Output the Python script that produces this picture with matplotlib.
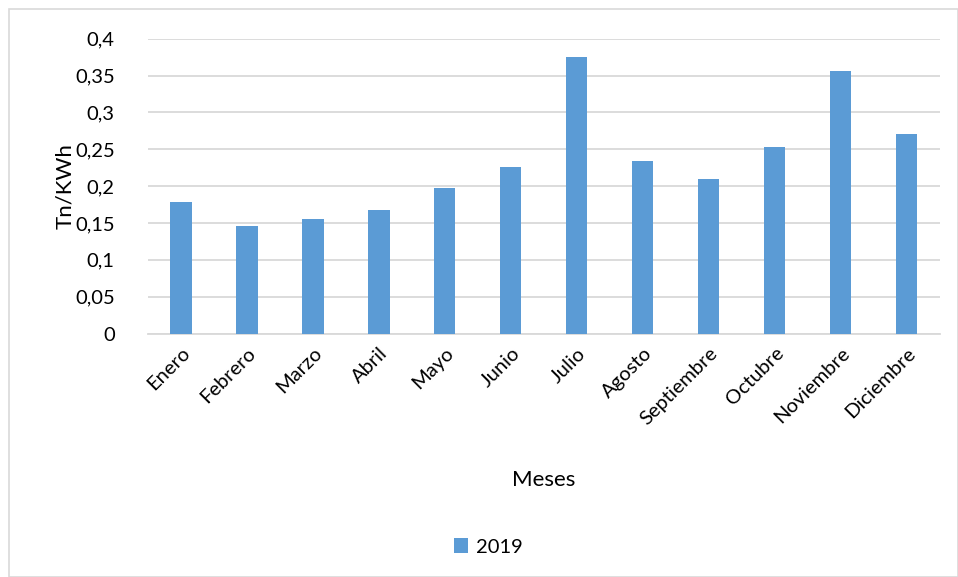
import numpy as np
import matplotlib
matplotlib.use('Agg')
from matplotlib import pyplot as plt
from matplotlib.patches import Rectangle
from matplotlib.ticker import FuncFormatter

plt.rcParams['font.family'] = ['Lato', 'DejaVu Sans']

meses = ['Enero', 'Febrero', 'Marzo', 'Abril', 'Mayo', 'Junio', 'Julio',
         'Agosto', 'Septiembre', 'Octubre', 'Noviembre', 'Diciembre']
valores_2019 = [0.179, 0.146, 0.155, 0.168, 0.197, 0.226, 0.375,
                0.234, 0.209, 0.253, 0.356, 0.271]
yticks = [0, 0.05, 0.1, 0.15, 0.2, 0.25, 0.3, 0.35, 0.4]

azul = '#5b9bd5'
gris = '#d9d9d9'

fig = plt.figure(figsize=(9.58, 5.77), dpi=100)
ax = fig.add_axes([0.1545, 0.422, 0.8265, 0.511])

x = np.arange(len(meses))
ax.bar(x, valores_2019, width=0.32, color=azul, label='2019', zorder=3)

ax.set_xlim(-0.5, len(meses) - 0.5)
ax.set_ylim(0, 0.4)
ax.set_yticks(yticks)
ax.yaxis.set_major_formatter(FuncFormatter(lambda v, p: ('%g' % v).replace('.', ',')))
ax.set_xticks(x)
ax.set_xticklabels(meses, rotation=45, ha='right', rotation_mode='anchor')
ax.tick_params(axis='both', length=0, labelsize=14.5, colors='#000000')
ax.tick_params(axis='y', pad=24)
ax.tick_params(axis='x', pad=8)

ax.grid(axis='y', color=gris, linewidth=1.3, zorder=0)
for s in ['top', 'right', 'left']:
    ax.spines[s].set_visible(False)
ax.spines['bottom'].set_color(gris)
ax.spines['bottom'].set_linewidth(1.3)

ax.set_ylabel('Tn/KWh', fontsize=16, labelpad=0)
ax.set_xlabel('Meses', fontsize=16, labelpad=30)

fig.legend(loc='center', bbox_to_anchor=(0.51, 0.052), frameon=False,
           fontsize=14.5, handlelength=0.7, handleheight=0.7, handletextpad=0.4)

fig.patches.append(Rectangle((9 / 958, 0.0), 1 - 9 / 958, 1 - 9 / 577,
                             transform=fig.transFigure, fill=False,
                             edgecolor=gris, linewidth=1.2))

fig.savefig('out.png', dpi=100)
